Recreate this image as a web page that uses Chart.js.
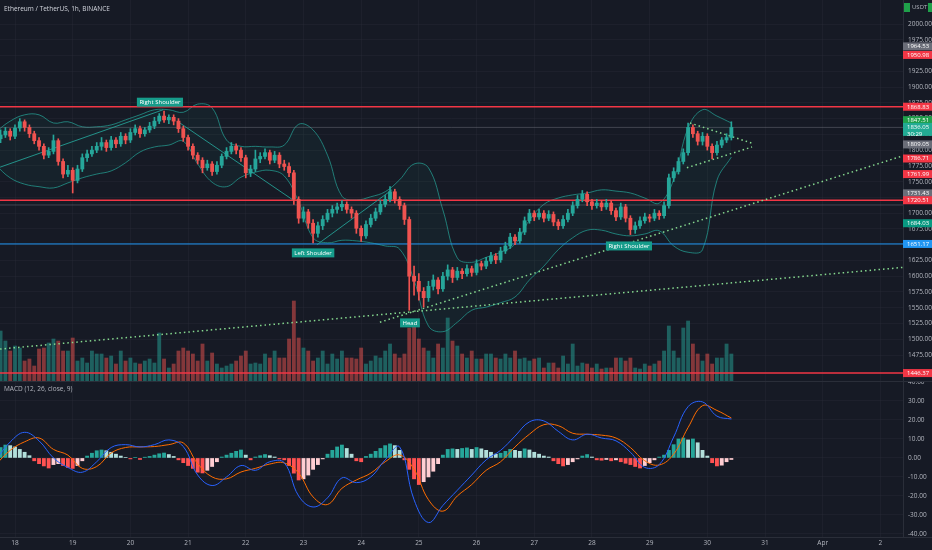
<!DOCTYPE html>
<html>
<head>
<meta charset="utf-8">
<script src="https://cdn.jsdelivr.net/npm/chart.js@4.4.1/dist/chart.umd.min.js"></script>
<style>
  html, body { margin: 0; padding: 0; background: #161a25; }
  #wrap { position: relative; width: 932px; height: 550px; overflow: hidden; background: #161a25; }
  #priceBox { position: absolute; left: 0; top: 0; width: 932px; height: 381px; }
  #macdBox { position: absolute; left: 0; top: 381px; width: 932px; height: 169px; }
</style>
</head>
<body>
<div id="wrap">
  <div id="priceBox"><canvas id="priceChart"></canvas></div>
  <div id="macdBox"><canvas id="macdChart"></canvas></div>
</div>
<script>
// time is in hours from 18 Mar 00:00, one candle every 2 hours
const startHour = -6;
const candleStep = 2;
const firstOpen = 1818;

const closes = [
  1824, 1830, 1822, 1835, 1845, 1836, 1826, 1815, 1806, 1792,
  1798, 1815, 1782, 1762, 1768, 1752, 1770, 1788, 1794, 1800,
  1806, 1812, 1804, 1816, 1810, 1822, 1816, 1828, 1834, 1826,
  1832, 1838, 1846, 1854, 1848, 1852, 1846, 1834, 1820, 1806,
  1792, 1784, 1772, 1778, 1766, 1776, 1790, 1798, 1806, 1800,
  1788, 1764, 1770, 1786, 1790, 1796, 1784, 1792, 1778, 1774,
  1764, 1722, 1692, 1702, 1684, 1668, 1680, 1690, 1700, 1706,
  1710, 1714, 1706, 1700, 1676, 1664, 1682, 1692, 1702, 1714,
  1722, 1734, 1722, 1712, 1690, 1600, 1592, 1576, 1566, 1584,
  1594, 1580, 1600, 1610, 1598, 1608, 1604, 1612, 1606, 1620,
  1616, 1624, 1632, 1626, 1640, 1648, 1662, 1656, 1670, 1688,
  1700, 1694, 1700, 1692, 1698, 1686, 1680, 1690, 1700, 1712,
  1722, 1730, 1718, 1712, 1716, 1710, 1716, 1704, 1694, 1710,
  1692, 1674, 1680, 1688, 1694, 1692, 1700, 1696, 1712, 1756,
  1766, 1782, 1796, 1836, 1826, 1814, 1822, 1806, 1796, 1808,
  1816, 1820, 1836
];
const highs = [
  1832, 1836, 1834, 1840, 1850, 1848, 1840, 1830, 1820, 1810,
  1804, 1824, 1818, 1786, 1776, 1772, 1776, 1794, 1800, 1806,
  1812, 1820, 1816, 1822, 1820, 1828, 1826, 1834, 1840, 1838,
  1836, 1844, 1852, 1858, 1862, 1856, 1856, 1850, 1838, 1824,
  1810, 1796, 1788, 1784, 1782, 1782, 1794, 1804, 1812, 1810,
  1804, 1792, 1776, 1800, 1796, 1802, 1800, 1798, 1796, 1784,
  1780, 1768, 1726, 1710, 1706, 1690, 1686, 1696, 1706, 1712,
  1716, 1720, 1718, 1710, 1704, 1680, 1688, 1698, 1708, 1720,
  1728, 1742, 1738, 1726, 1716, 1694, 1616, 1604, 1582, 1592,
  1602, 1598, 1606, 1618, 1614, 1614, 1612, 1618, 1616, 1626,
  1624, 1630, 1638, 1636, 1646, 1654, 1668, 1666, 1676, 1694,
  1706, 1704, 1706, 1704, 1704, 1702, 1690, 1696, 1706, 1718,
  1728, 1736, 1734, 1722, 1722, 1720, 1722, 1720, 1708, 1716,
  1714, 1696, 1686, 1694, 1700, 1698, 1706, 1704, 1718, 1762,
  1772, 1788, 1802, 1843, 1840, 1830, 1828, 1826, 1810, 1814,
  1820, 1826, 1845
];
const lows = [
  1812, 1820, 1816, 1818, 1830, 1830, 1820, 1810, 1800, 1786,
  1788, 1794, 1776, 1756, 1758, 1732, 1748, 1766, 1782, 1790,
  1796, 1800, 1798, 1800, 1804, 1806, 1810, 1812, 1824, 1820,
  1822, 1828, 1834, 1842, 1844, 1842, 1840, 1828, 1814, 1800,
  1786, 1778, 1764, 1768, 1760, 1762, 1772, 1786, 1794, 1794,
  1782, 1756, 1758, 1766, 1780, 1786, 1778, 1780, 1772, 1768,
  1758, 1714, 1684, 1686, 1676, 1653, 1662, 1674, 1686, 1694,
  1700, 1704, 1700, 1692, 1668, 1655, 1660, 1678, 1688, 1698,
  1710, 1718, 1716, 1706, 1682, 1546, 1570, 1562, 1551, 1560,
  1578, 1572, 1576, 1594, 1590, 1594, 1596, 1600, 1600, 1602,
  1610, 1612, 1620, 1620, 1622, 1636, 1644, 1650, 1652, 1666,
  1684, 1688, 1690, 1686, 1688, 1680, 1674, 1676, 1686, 1696,
  1708, 1718, 1712, 1706, 1708, 1704, 1706, 1698, 1688, 1690,
  1686, 1666, 1668, 1676, 1684, 1686, 1688, 1690, 1692, 1708,
  1750, 1762, 1778, 1792, 1820, 1808, 1808, 1800, 1786, 1792,
  1804, 1812, 1816
];
const volumes = [
  50, 40, 30, 35, 33, 20, 22, 15, 32, 33,
  38, 42, 40, 30, 30, 43, 20, 23, 18, 30,
  27, 27, 23, 25, 17, 30, 20, 23, 18, 17,
  20, 22, 18, 48, 22, 13, 17, 30, 33, 30,
  27, 20, 37, 20, 28, 17, 13, 15, 17, 20,
  25, 30, 17, 18, 17, 27, 23, 30, 23, 23,
  42, 80, 43, 33, 30, 20, 23, 30, 17, 27,
  22, 30, 23, 23, 22, 33, 17, 20, 25, 23,
  30, 37, 27, 23, 27, 53, 57, 42, 33, 30,
  23, 37, 33, 63, 40, 35, 27, 23, 30, 22,
  22, 27, 27, 23, 22, 27, 23, 30, 22, 23,
  20, 22, 23, 13, 18, 18, 13, 25, 17, 37,
  15, 18, 17, 13, 17, 12, 13, 13, 23, 23,
  20, 23, 13, 12, 17, 15, 17, 20, 30, 55,
  30, 23, 53, 60, 37, 27, 20, 27, 17, 23,
  23, 37, 27
];
const macdHist = [
  5.5, 6.8, 6.5, 5.8, 4.5, 3, 1.2, -1.5, -3, -4.2,
  -5.3, -3.5, -3, -4, -5, -5.5, -4, -1.5, 1, 2.5,
  3.8, 4.2, 3.8, 3, 2, 1, 0.3, -0.5, 0.3, -0.8,
  0.4, 0.8, 1.5, 2.2, 2.6, 1.8, 0.8, -1, -2.5, -4,
  -5.5, -7.5, -7.9, -6.5, -4.5, -2, 0.5, 1.5, 2.5, 3.5,
  4.2, 1.5, -1, 0.5, 1.2, 1.8, 1.2, 0.5, -0.5, -1,
  -4, -8, -11.6, -11, -9, -6, -3.5, -0.5, 2, 4,
  5.8, 6.8, 5, 2, -1.5, -2, 0.8, 2, 3.5, 5,
  6.5, 7.4, 6.5, 4, -1, -6, -11, -14, -12.5, -10,
  -7, -3, 1.5, 4.5, 4.8, 4.5, 5, 5.3, 4.5, 5.5,
  4.8, 4, 3, 2, 2.5, 3.5, 4.5, 4, 3.5, 4.8,
  4.2, 3, 2, 1, 0.5, -1.5, -3, -4.2, -3.5, -2,
  -0.5, 1, 1.8, 0.5, -1, -1.2, -0.8, -1.5, -1, -2,
  -2.8, -3.5, -4.5, -5.3, -4, -2.5, -1, 0.5, 1.5, 4,
  7, 10, 10.5, 9.5, 10, 8, 4, 1, -2.5, -4.2,
  -3.8, -2, -0.8
];

// smooth lines are sampled every 6 hours, starting at hour -8
const lineStartHour = -8;
const lineStep = 6;
const macdLine = [
  -1, 8.4, 13.5, 9, 0, -5, -7.5, -2, 5.5, 7,
  5.8, 7, 9.5, 6, -9, -14.5, -10, -4, -6.5, -2,
  -2.5, -20, -25.8, -21, -10.5, -13, -10, -1, 5.8, -22,
  -34, -25, -17, -9, -1, 4, 11.5, 19, 19.5, 14,
  9.5, 12.5, 10.5, 9, 3, -5, -3.5, 11, 27, 29.5,
  22, 20.5
];
const signalLine = [
  -3.5, 4, 8.5, 10.5, 4.5, 1.5, -5.5, -4.5, 2.6, 5.5,
  5.8, 6, 7, 7.9, -3, -10, -11, -7.4, -5.5, -3.2,
  -2.6, -8, -20.5, -24.5, -16, -11.6, -8, -2, 1.6, -6,
  -22, -28, -20, -14, -6.5, -2, 5.8, 12.5, 17.5, 17,
  13, 12.5, 12, 10.5, 5.5, -1.5, -3.7, 2, 16, 27.5,
  25, 21
];
const bbUpper = [
  1829, 1846, 1856, 1856, 1843, 1845, 1837, 1837, 1840, 1848,
  1856, 1864, 1864, 1860, 1873, 1867, 1816, 1806, 1806, 1805,
  1808, 1841, 1832, 1792, 1727, 1721, 1726, 1734, 1753, 1778,
  1772, 1705, 1629, 1622, 1630, 1638, 1651, 1689, 1714, 1724,
  1729, 1732, 1737, 1735, 1732, 1724, 1716, 1753, 1835, 1864,
  1854, 1843
];
const bbLower = [
  1776, 1756, 1746, 1742, 1740, 1748, 1756, 1762, 1767, 1780,
  1797, 1805, 1808, 1814, 1778, 1749, 1742, 1757, 1765, 1768,
  1759, 1718, 1661, 1653, 1657, 1656, 1653, 1648, 1643, 1594,
  1521, 1512, 1527, 1546, 1551, 1558, 1567, 1594, 1616, 1642,
  1661, 1673, 1673, 1667, 1664, 1667, 1672, 1648, 1638, 1642,
  1752, 1789
];

const dayHours = [0, 24, 48, 72, 96, 120, 144, 168, 192, 216, 240, 264, 288, 312, 336, 360];
const dayLabels = ['18', '19', '20', '21', '22', '23', '24', '25', '26', '27', '28', '29', '30', '31', 'Apr', '2'];
const priceTicks = [2000, 1975, 1950, 1925, 1900, 1875, 1850, 1825, 1800, 1775, 1750,
  1725, 1700, 1675, 1650, 1625, 1600, 1575, 1550, 1525, 1500, 1475];
const macdTicks = [40, 30, 20, 10, 0, -10, -20, -30, -40];

const levelPrices = [1868.83, 1720.51, 1446.37, 1651.17, 1836.05, 1713];
const levelKinds = ['red', 'red', 'red', 'blue', 'gray', 'gray'];

// [startHour, startPrice, endHour, endPrice]
const patternLines = [
  [-6.2, 1773, 61.6, 1864],
  [68.6, 1843, 115.6, 1721],
  [125.6, 1650, 156.8, 1737]
];
const dottedLines = [
  [-6.2, 1484.5, 369.4, 1614],
  [151.8, 1527, 369.4, 1791],
  [280.8, 1843, 306.6, 1811],
  [279.5, 1772, 306.6, 1805]
];

const patternNames = ['Right Shoulder', 'Left Shoulder', 'Head', 'Right Shoulder'];
const patternHours = [60.3, 124, 164.3, 255.4];
const patternPrices = [1876, 1637, 1526, 1648];

const tagPrices = [1964.53, 1950.98, 1868.83, 1847.51, 1836.05, 1809.05, 1786.71,
  1761.99, 1731.43, 1720.51, 1684.03, 1651.17, 1446.37];
const tagKinds = ['gray', 'red', 'red', 'green', 'last', 'gray', 'red',
  'red', 'gray', 'red', 'teal', 'blue', 'red'];
const countdown = '30:29';

const title = 'Ethereum / TetherUS, 1h, BINANCE';
const macdTitle = 'MACD (12, 26, close, 9)';

// ---- styling ----
const UP = '#26a69a';
const DOWN = '#ef5350';
const AXIS_TEXT = '#b2b5be';
const GRID = 'rgba(42,46,57,0.35)';
const BORDER = '#2a2e39';
const FONT = '"Open Sans", "DejaVu Sans", sans-serif';
const levelColors = { red: '#f23645', blue: '#2196f3', gray: 'rgba(120,123,134,0.45)' };
const tagColors = { gray: '#6a6d78', red: '#f23645', green: '#1fa04a', last: '#22ab94', teal: '#089981', blue: '#2196f3' };

const xMin = -6.24, xMax = 369.4;
const priceMin = 1433.8, priceMax = 2038.1;
const macdMin = -41.6, macdMax = 40.5;
const axisWidth = 29;

Chart.defaults.font.family = FONT;

const candleHours = closes.map((_, i) => startHour + i * candleStep);
const opens = closes.map((c, i) => (i === 0 ? firstOpen : closes[i - 1]));
const isUp = closes.map((c, i) => c >= opens[i]);
const lineHours = macdLine.map((_, i) => lineStartHour + i * lineStep);

const noPad = (s) => { s.paddingTop = 0; s.paddingBottom = 0; s.paddingLeft = 0; s.paddingRight = 0; };

const priceOverlay = {
  id: 'priceOverlay',
  afterDraw(chart) {
    const { ctx, scales: { x, y }, chartArea } = chart;
    ctx.save();
    ctx.textBaseline = 'middle';

    ctx.font = '6.5px ' + FONT;
    ctx.fillStyle = '#d1d4dc';
    ctx.textAlign = 'left';
    ctx.fillText(title, 4, 9);

    // head & shoulders labels
    ctx.font = '6px ' + FONT;
    patternNames.forEach((name, i) => {
      const px = x.getPixelForValue(patternHours[i]);
      const py = y.getPixelForValue(patternPrices[i]);
      const w = ctx.measureText(name).width + 5;
      ctx.fillStyle = '#169c8b';
      ctx.fillRect(px - w / 2, py - 4.5, w, 9);
      ctx.fillStyle = '#ffffff';
      ctx.textAlign = 'center';
      ctx.fillText(name, px, py + 0.3);
    });

    // price tags on the right axis
    const left = chartArea.right;
    ctx.textAlign = 'left';
    tagPrices.forEach((p, i) => {
      const py = y.getPixelForValue(p);
      const kind = tagKinds[i];
      ctx.fillStyle = tagColors[kind];
      if (kind === 'last') {
        ctx.fillRect(left, py - 4.5, axisWidth, 13);
        ctx.fillStyle = '#ffffff';
        ctx.fillText(p.toFixed(2), left + 4, py);
        ctx.fillText(countdown, left + 4, py + 6.5);
      } else {
        ctx.fillRect(left, py - 4, axisWidth, 8);
        ctx.fillStyle = '#ffffff';
        ctx.fillText(p.toFixed(2), left + 4, py + 0.2);
      }
    });

    // currency box at top right
    ctx.fillStyle = '#1fa04a';
    ctx.fillRect(left + 1, 3, 6, 9);
    ctx.fillRect(left + 25, 3, 4, 9);
    ctx.fillStyle = AXIS_TEXT;
    ctx.fillText('USDT', left + 9, 7.5);
    ctx.restore();
  }
};

const macdOverlay = {
  id: 'macdOverlay',
  afterDraw(chart) {
    const { ctx, chartArea } = chart;
    ctx.save();
    ctx.strokeStyle = BORDER;
    ctx.lineWidth = 1;
    ctx.beginPath();
    ctx.moveTo(0, 0.5);
    ctx.lineTo(chart.width, 0.5);
    ctx.moveTo(0, chartArea.bottom + 0.5);
    ctx.lineTo(chart.width, chartArea.bottom + 0.5);
    ctx.stroke();
    ctx.font = '6.5px ' + FONT;
    ctx.fillStyle = AXIS_TEXT;
    ctx.textBaseline = 'middle';
    ctx.fillText(macdTitle, 4, 8);
    ctx.restore();
  }
};

const lineSet = (pts, color, opts) => Object.assign({
  type: 'line',
  data: pts,
  borderColor: color,
  borderWidth: 1,
  pointRadius: 0,
  fill: false,
  yAxisID: 'y'
}, opts || {});

const priceDatasets = [
  {
    type: 'bar',
    data: candleHours.map((h, i) => ({ x: h, y: volumes[i] })),
    backgroundColor: isUp.map((u) => (u ? 'rgba(38,166,154,0.5)' : 'rgba(239,83,80,0.5)')),
    barThickness: 3.2,
    grouped: false,
    yAxisID: 'vol',
    order: 10
  },
  lineSet(lineHours.map((h, i) => ({ x: h, y: bbUpper[i] })), 'rgba(38,166,154,0.7)',
    { tension: 0.4, fill: '+1', backgroundColor: 'rgba(38,166,154,0.06)', order: 8 }),
  lineSet(lineHours.map((h, i) => ({ x: h, y: bbLower[i] })), 'rgba(38,166,154,0.7)',
    { tension: 0.4, order: 8 })
];

levelPrices.forEach((p, i) => {
  priceDatasets.push(lineSet([{ x: xMin, y: p }, { x: xMax, y: p }], levelColors[levelKinds[i]],
    { borderWidth: levelKinds[i] === 'red' ? 1.5 : 1, order: 6 }));
});
patternLines.forEach((l) => {
  priceDatasets.push(lineSet([{ x: l[0], y: l[1] }, { x: l[2], y: l[3] }], 'rgba(38,166,154,0.85)', { order: 5 }));
});
dottedLines.forEach((l) => {
  priceDatasets.push(lineSet([{ x: l[0], y: l[1] }, { x: l[2], y: l[3] }], '#86d98f',
    { borderWidth: 1.5, borderDash: [1.5, 3], order: 4 }));
});

priceDatasets.push({
  type: 'bar',
  data: candleHours.map((h, i) => ({ x: h, y: [lows[i], highs[i]] })),
  backgroundColor: isUp.map((u) => (u ? UP : DOWN)),
  barThickness: 1,
  grouped: false,
  yAxisID: 'y',
  order: 2
});
priceDatasets.push({
  type: 'bar',
  data: candleHours.map((h, i) => ({ x: h, y: [opens[i], closes[i]] })),
  backgroundColor: isUp.map((u) => (u ? UP : DOWN)),
  barThickness: 3.2,
  grouped: false,
  yAxisID: 'y',
  order: 1
});

new Chart(document.getElementById('priceChart'), {
  data: { datasets: priceDatasets },
  options: {
    responsive: true,
    maintainAspectRatio: false,
    animation: false,
    layout: { padding: 0 },
    plugins: { legend: { display: false }, tooltip: { enabled: false } },
    scales: {
      x: {
        type: 'linear',
        min: xMin,
        max: xMax,
        offset: false,
        ticks: { display: false },
        grid: { color: GRID, drawTicks: false, offset: false },
        border: { display: false },
        afterBuildTicks: (s) => { s.ticks = dayHours.map((v) => ({ value: v })); },
        afterFit: (s) => { s.height = 0; noPad(s); }
      },
      y: {
        position: 'right',
        min: priceMin,
        max: priceMax,
        ticks: { color: AXIS_TEXT, font: { size: 6.5 }, padding: 5, callback: (v) => Number(v).toFixed(2) },
        grid: { color: GRID, drawTicks: false },
        border: { color: BORDER },
        afterBuildTicks: (s) => { s.ticks = priceTicks.map((v) => ({ value: v })); },
        afterFit: (s) => { s.width = axisWidth; noPad(s); }
      },
      vol: { display: false, min: 0, max: 381 }
    }
  },
  plugins: [priceOverlay]
});

const histColors = macdHist.map((v, i) => {
  const prev = i === 0 ? 0 : macdHist[i - 1];
  if (v >= 0) return v >= prev ? '#26a69a' : '#b2dfdb';
  return v < prev ? '#ff5252' : '#ffcdd2';
});

new Chart(document.getElementById('macdChart'), {
  data: {
    datasets: [
      {
        type: 'bar',
        data: candleHours.map((h, i) => ({ x: h, y: macdHist[i] })),
        backgroundColor: histColors,
        barThickness: 3.2,
        grouped: false,
        order: 3
      },
      {
        type: 'line',
        data: lineHours.map((h, i) => ({ x: h, y: signalLine[i] })),
        borderColor: '#ff6d00',
        borderWidth: 1,
        pointRadius: 0,
        tension: 0.4,
        order: 2
      },
      {
        type: 'line',
        data: lineHours.map((h, i) => ({ x: h, y: macdLine[i] })),
        borderColor: '#2962ff',
        borderWidth: 1,
        pointRadius: 0,
        tension: 0.4,
        order: 1
      }
    ]
  },
  options: {
    responsive: true,
    maintainAspectRatio: false,
    animation: false,
    layout: { padding: 0 },
    plugins: { legend: { display: false }, tooltip: { enabled: false } },
    scales: {
      x: {
        type: 'linear',
        min: xMin,
        max: xMax,
        offset: false,
        ticks: {
          color: AXIS_TEXT,
          font: { size: 6.5 },
          padding: 2,
          autoSkip: false,
          maxRotation: 0,
          callback: (v) => { const k = dayHours.indexOf(v); return k >= 0 ? dayLabels[k] : ''; }
        },
        grid: { color: GRID, drawTicks: false, offset: false },
        border: { display: false },
        afterBuildTicks: (s) => { s.ticks = dayHours.map((v) => ({ value: v })); },
        afterFit: (s) => { s.height = 13; noPad(s); }
      },
      y: {
        position: 'right',
        min: macdMin,
        max: macdMax,
        ticks: { color: AXIS_TEXT, font: { size: 6.5 }, padding: 5, callback: (v) => Number(v).toFixed(2) },
        grid: { color: GRID, drawTicks: false },
        border: { color: BORDER },
        afterBuildTicks: (s) => { s.ticks = macdTicks.map((v) => ({ value: v })); },
        afterFit: (s) => { s.width = axisWidth; noPad(s); }
      }
    }
  },
  plugins: [macdOverlay]
});
</script>
</body>
</html>
